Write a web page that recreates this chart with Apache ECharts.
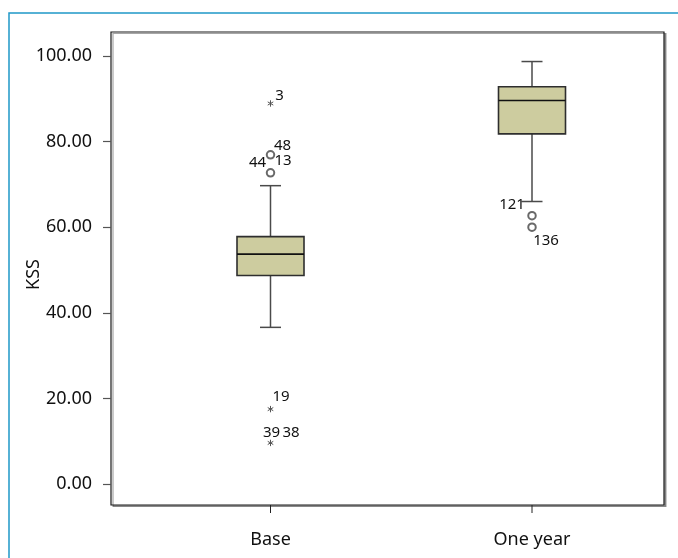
<!DOCTYPE html>
<html>
<head>
<meta charset="utf-8">
<script src="https://cdn.jsdelivr.net/npm/echarts@6/dist/echarts.min.js"></script>
<style>html,body{margin:0;padding:0;background:#fff}#c{width:678px;height:558px}</style>
</head>
<body>
<div id="c"></div>
<script>
// ---- data ----
const categories = ['Base', 'One year'];
// [lower whisker, Q1, median, Q3, upper whisker]
const boxStats = [
  [36.6, 48.7, 53.7, 57.8, 69.7],
  [66.0, 81.8, 89.6, 92.8, 98.7]
];
// mild outliers (circles): [category index, value]
const mildOutliers = [[0, 76.9], [0, 72.7], [1, 62.7], [1, 60.0]];
// extreme outliers (stars): [category index, value]
const extremeOutliers = [[0, 88.9], [0, 17.5], [0, 9.6]];
// case labels: [text, category index, value]
const caseLabels = [
  ['3', 0, 88.9], ['48', 0, 76.9], ['44', 0, 72.7], ['13', 0, 72.7],
  ['19', 0, 17.5], ['39', 0, 9.6], ['38', 0, 9.6],
  ['121', 1, 62.7], ['136', 1, 60.0]
];
const yTicks = [0, 20, 40, 60, 80, 100];

// ---- layout / style (not data) ----
const labelOffsets = {
  '3': [9, -8], '48': [12, -9], '44': [-13, -10], '13': [12.5, -12],
  '19': [10.5, -12], '39': [1, -10], '38': [20.5, -10],
  '121': [-20, -11], '136': [14, 14]
};
const FONT = '"Noto Sans", sans-serif';
const yMin = -4.9, yMax = 105.6;
const gridPos = { top: 32, bottom: 53 };

const chart = echarts.init(document.getElementById('c'), null, { renderer: 'canvas' });

function boxItem(params, api) {
  const x = api.value(0);
  const c = [1, 2, 3, 4, 5].map(i => api.coord([x, api.value(i)]));
  const cx = c[0][0];
  const bw = 67, cw = 21;
  const whisker = { stroke: '#4a4a4a', lineWidth: 1.5 };
  return {
    type: 'group',
    children: [
      { type: 'line', shape: { x1: cx, y1: c[0][1], x2: cx, y2: c[1][1] }, style: whisker },
      { type: 'line', shape: { x1: cx, y1: c[3][1], x2: cx, y2: c[4][1] }, style: whisker },
      { type: 'line', shape: { x1: cx - cw / 2, y1: c[0][1], x2: cx + cw / 2, y2: c[0][1] }, style: whisker },
      { type: 'line', shape: { x1: cx - cw / 2, y1: c[4][1], x2: cx + cw / 2, y2: c[4][1] }, style: whisker },
      { type: 'rect', shape: { x: cx - bw / 2, y: c[3][1], width: bw, height: c[1][1] - c[3][1] },
        style: { fill: '#cdcc9f', stroke: '#2e2e2e', lineWidth: 1.6 } },
      { type: 'line', shape: { x1: cx - bw / 2, y1: c[2][1], x2: cx + bw / 2, y2: c[2][1] },
        style: { stroke: '#111', lineWidth: 1.6 } },
      // category tick below the axis, positioned from the axis scale
      (function () {
        const b = api.coord([x, yMin]);
        return { type: 'line', shape: { x1: cx, y1: b[1], x2: cx, y2: b[1] + 8 },
          style: { stroke: '#222', lineWidth: 1 } };
      })()
    ]
  };
}

function starItem(params, api) {
  const p = api.coord([api.value(0), api.value(1)]);
  const r = 3.2;
  const ch = [];
  [90, 30, 150].forEach(a => {
    const rad = a * Math.PI / 180;
    const dx = Math.cos(rad) * r, dy = Math.sin(rad) * r;
    ch.push({ type: 'line', shape: { x1: p[0] - dx, y1: p[1] - dy, x2: p[0] + dx, y2: p[1] + dy },
      style: { stroke: '#555', lineWidth: 1 } });
  });
  return { type: 'group', children: ch };
}

function labelItem(params, api) {
  const txt = caseLabels[params.dataIndex][0];
  const p = api.coord([api.value(1), api.value(2)]);
  const off = labelOffsets[txt] || [0, 0];
  return {
    type: 'text',
    style: { text: txt, x: p[0] + off[0], y: p[1] + off[1], align: 'center', verticalAlign: 'middle',
      fill: '#111', font: '15px ' + FONT }
  };
}

const option = {
  backgroundColor: '#ffffff',
  animation: false,
  graphic: [{
    type: 'rect', shape: { x: 9, y: 13, width: 700, height: 600 },
    style: { fill: 'none', stroke: '#1f98c8', lineWidth: 1.5 }, z: 0
  }],
  grid: [
    Object.assign({ left: 111, right: 14, show: true, backgroundColor: '#fff', borderColor: '#1a1a1a',
      borderWidth: 1.2, shadowColor: 'rgba(0,0,0,0.35)', shadowBlur: 0, shadowOffsetX: 2, shadowOffsetY: 1.5 }, gridPos),
    Object.assign({ left: 139.75, right: 15.25 }, gridPos)
  ],
  xAxis: [
    { gridIndex: 0, type: 'value', show: false, min: 0, max: 1 },
    { gridIndex: 1, type: 'category', data: categories, boundaryGap: true, position: 'bottom',
      axisLine: { show: false, onZero: false },
      axisTick: { show: false },
      axisLabel: { margin: 26, fontSize: 18, fontFamily: FONT, color: '#111', interval: 0 },
      splitLine: { show: false } }
  ],
  yAxis: [
    { gridIndex: 0, type: 'value', min: yMin, max: yMax,
      name: 'KSS', nameLocation: 'middle', nameRotate: 90, nameGap: 68, nameMoveOverlap: false,
      nameTextStyle: { fontSize: 18, fontFamily: FONT, color: '#111', padding: [0, 12, 0, 0] },
      axisLine: { show: false },
      axisTick: { show: true, length: 8, customValues: yTicks, lineStyle: { color: '#555', width: 1.2 } },
      axisLabel: { margin: 19, fontSize: 18, fontFamily: FONT, color: '#111', customValues: yTicks,
        formatter: v => v.toFixed(2) },
      splitLine: { show: false } },
    { gridIndex: 1, type: 'value', min: yMin, max: yMax, show: false, splitLine: { show: false } }
  ],
  series: [
    { type: 'custom', xAxisIndex: 1, yAxisIndex: 1, renderItem: boxItem, clip: false,
      data: boxStats.map((s, i) => [i].concat(s)), encode: { x: 0, y: [1, 2, 3, 4, 5] }, z: 3 },
    { type: 'scatter', xAxisIndex: 1, yAxisIndex: 1, data: mildOutliers, symbol: 'emptyCircle', symbolSize: 7.5,
      itemStyle: { color: '#444', borderColor: '#444', borderWidth: 0.9 }, z: 4 },
    { type: 'custom', xAxisIndex: 1, yAxisIndex: 1, renderItem: starItem, data: extremeOutliers, z: 4 },
    { type: 'custom', xAxisIndex: 1, yAxisIndex: 1, renderItem: labelItem,
      data: caseLabels.map(d => [d[0], d[1], d[2]]), encode: { x: 1, y: 2 }, z: 5 }
  ]
};
chart.setOption(option);
</script>
</body>
</html>
